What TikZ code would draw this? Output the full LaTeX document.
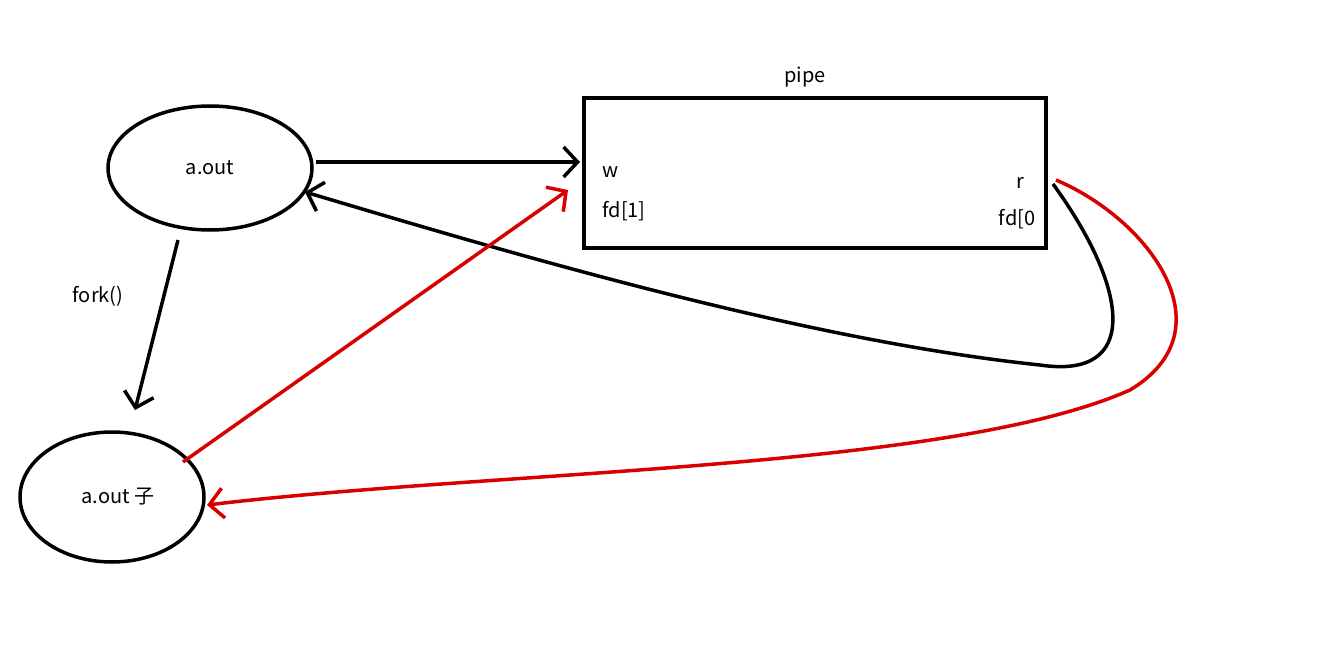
\documentclass[tikz,border=0pt]{standalone}
\usepackage{fontspec}
\setmainfont{Noto Sans CJK SC}
\usetikzlibrary{arrows.meta,shapes.geometric}
\begin{document}
\begin{tikzpicture}[x=1pt,y=-1pt,
  every node/.style={font=\fontsize{20}{22}\selectfont, inner sep=0pt},
  box/.style={draw=black, line width=3.5pt},
  conn/.style={line width=3.5pt, -{Straight Barb[length=14pt,width=30pt,line width=3.5pt]}},
  blk/.style={conn, black},
  rd/.style={conn, red!85!black}]
\useasboundingbox (0,0) rectangle (1318,661);
\node[box, ellipse, minimum width=204pt, minimum height=124pt] (p) at (210,168) {};
\node at (210,168) {a.out};
\node[box, ellipse, minimum width=184pt, minimum height=130pt] (c) at (112,497) {};
\node at (118,497) {a.out 子};
\node[box, rectangle, minimum width=462pt, minimum height=150pt] (pipe) at (815,173) {};
\node (pl) at (805,77) {pipe};
\node (w) at (611,172) {w};
\node (f1) at (624,211) {fd[1]};
\node (r) at (1020,183) {r};
\node (f0) at (1017,219) {fd[0};
\node (fk) at (98,296) {fork()};
\coordinate (ws) at (316,162);
\coordinate (we) at (580,162);
\coordinate (rs) at (1053,184);
\coordinate (pe) at (305,192);
\coordinate (fs) at (178,240);
\coordinate (fe) at (135,410);
\coordinate (cs) at (183,462);
\coordinate (ce) at (568,190);
\coordinate (r2) at (1056,180);
\coordinate (ci) at (207,505);
\draw[blk] (ws) -- (we);
\draw[blk] (fs) -- (fe);
\draw[blk] (rs) .. controls (1130,290) and (1140,380) .. (1040,365) .. controls (800,340) and (500,250) .. (pe);
\draw[rd] (cs) -- (ce);
\draw[rd] (r2) .. controls (1150,220) and (1230,330) .. (1130,390) .. controls (950,470) and (500,470) .. (ci);
\end{tikzpicture}
\end{document}
